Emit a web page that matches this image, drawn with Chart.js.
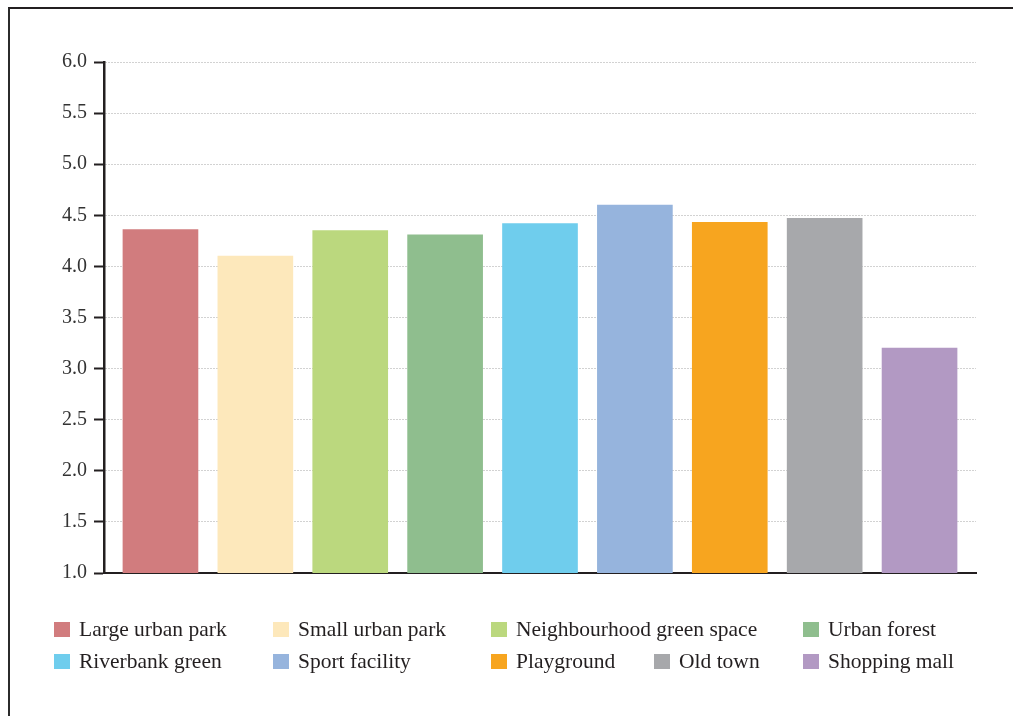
<!DOCTYPE html>
<html>
<head>
<meta charset="utf-8">
<script src="https://cdn.jsdelivr.net/npm/chart.js@4"></script>
<style>
  html, body { margin: 0; padding: 0; background: #fff; }
  body { width: 1013px; height: 716px; position: relative; overflow: hidden; }
  #frame { position: absolute; left: 8px; top: 7px; width: 1100px; height: 800px;
           border-left: 2.5px solid #2b2b2b; border-top: 2px solid #231f20; box-sizing: border-box; }
  #wrap { position: absolute; left: 0; top: 0; width: 1013px; height: 716px; }
  .lg { position: absolute; font-family: "Liberation Serif", serif; font-size: 21.5px; color: #231f20;
        white-space: nowrap; line-height: 1; }
  .lg .bx { position: absolute; left: 0; width: 16px; height: 15px; }
  .lg .tx { position: absolute; left: 25px; top: -3px; }
</style>
</head>
<body>
<div id="frame"></div>
<div id="wrap"><canvas id="c" width="1013" height="716"></canvas></div>
<div id="legend"></div>
<script>
// ---- data ----
const categories = ["Large urban park", "Small urban park", "Neighbourhood green space", "Urban forest",
                    "Riverbank green", "Sport facility", "Playground", "Old town", "Shopping mall"];
const values = [4.36, 4.10, 4.35, 4.31, 4.42, 4.60, 4.43, 4.47, 3.20];
const colors = ["#D17C7E", "#FDE8BB", "#BBD87E", "#8FBE8E", "#6FCDED", "#96B4DD", "#F7A51F", "#A7A8AB", "#B299C3"];
const yTicks = [1.0, 1.5, 2.0, 2.5, 3.0, 3.5, 4.0, 4.5, 5.0, 5.5, 6.0];

// ---- legend layout (row, column) ----
const legendCols = [54, 273, 491, 654, 803];
const legendRows = [622, 654];
const legendSlots = [[0,0],[0,1],[0,2],[0,4],[1,0],[1,1],[1,2],[1,3],[1,4]];

const lg = document.getElementById('legend');
categories.forEach((name, i) => {
  const [r, c] = legendSlots[i];
  const d = document.createElement('div');
  d.className = 'lg';
  d.style.left = legendCols[c] + 'px';
  d.style.top = legendRows[r] + 'px';
  const b = document.createElement('div');
  b.className = 'bx';
  b.style.background = colors[i];
  const t = document.createElement('span');
  t.className = 'tx';
  t.textContent = name;
  d.appendChild(b); d.appendChild(t);
  lg.appendChild(d);
});

const font = { family: "'Liberation Serif', serif", size: 20 };

new Chart(document.getElementById('c'), {
  type: 'bar',
  data: {
    datasets: [{
      data: values.map((v, i) => ({ x: i, y: v })),
      backgroundColor: colors,
      borderWidth: 0,
      barThickness: 75
    }]
  },
  options: {
    responsive: false,
    animation: false,
    plugins: { legend: { display: false }, tooltip: { enabled: false } },
    layout: { padding: { left: 0, right: 37, top: 62, bottom: 143 } },
    scales: {
      x: {
        type: 'linear',
        offset: false,
        min: -0.595,
        max: 8.595,
        ticks: { display: false },
        grid: { display: false, drawTicks: false },
        border: { display: true, color: '#231f20', width: 2 },
        afterFit: s => { s.height = 0; }
      },
      y: {
        min: 1, max: 6,
        afterBuildTicks: s => { s.ticks = yTicks.map(v => ({ value: v })); },
        ticks: {
          font: font, color: '#333333', padding: 7,
          callback: v => Number(v).toFixed(1)
        },
        grid: {
          color: '#a5a5a5', lineWidth: 1,
          tickLength: 10, tickColor: '#231f20', tickWidth: 2,
          drawOnChartArea: true
        },
        border: { display: true, color: '#231f20', width: 2.5, dash: [1, 2] },
        afterFit: s => { s.width = 104; }
      }
    }
  }
});
</script>
</body>
</html>
